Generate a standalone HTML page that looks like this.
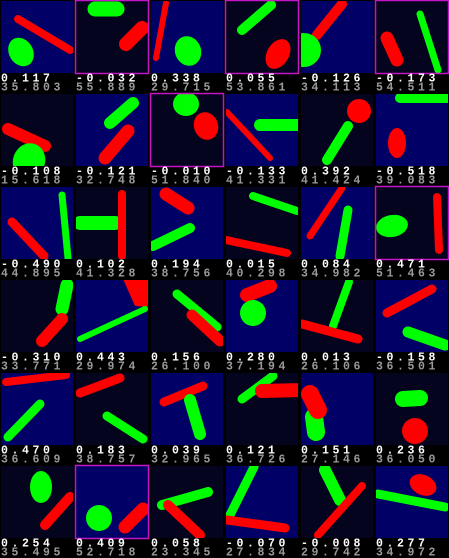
<!DOCTYPE html>
<html><head><meta charset="utf-8"><style>
html,body{margin:0;padding:0;background:#000;}
svg{display:block;}
text{font-family:"Liberation Mono",monospace;font-weight:bold;font-size:11.5px;letter-spacing:3.6px;}
</style></head><body>
<svg id="grid" width="449" height="558" viewBox="0 0 449 558" xmlns="http://www.w3.org/2000/svg">
<rect width="449" height="558" fill="#000"/>
</svg>
<script>
const scores = ["0.117","-0.032","0.338","0.055","-0.126","-0.173",
"-0.108","-0.121","-0.010","-0.133","0.392","-0.518",
"-0.490","0.102","0.194","0.015","0.084","0.471",
"-0.310","0.443","0.156","0.280","0.013","-0.158",
"0.470","0.183","0.039","0.121","0.151","0.236",
"0.254","0.409","0.058","-0.070","-0.008","0.277"];
const secondary = ["35.803","55.889","29.715","53.861","34.113","54.511",
"15.618","32.748","51.840","41.331","41.424","39.083",
"44.895","41.328","38.756","40.298","34.982","51.463",
"33.771","29.974","26.100","37.194","26.106","36.501",
"36.609","38.757","32.965","36.726","27.146","36.050",
"35.495","52.718","23.345","27.834","29.742","34.972"];
const bgs = "BDBDBD"+"DBDBDB"+"BDBDBD"+"DBDBDB"+"BDBDBD"+"DBDBDB";
const flagged = [1,3,5,8,17,31];
// shapes: [type, color, ...] c=capsule(x1,y1,x2,y2,w) e=ellipse(cx,cy,rx,ry,rot) p=polygon
const shapes = [
 [["c","r",18,19,70,50,8],["e","g",21,52,12,15,-30]],
 [["c","g",20,9,42,9,15],["c","r",51,44,67,28,14]],
 [["c","r",16,3,6,58,6],["e","g",38,51,13,15,-20]],
 [["c","g",46,5,17,30,10],["e","r",53,54,11,16,30]],
 [["c","r",42,4,17,35,10],["e","g",4,50,17,17,0]],
 [["c","r",12,38,22,60,13],["c","g",45,14,63,70,7]],
 [["c","r",8,36,45,53,12],["e","g",29,68,16,18,20]],
 [["c","g",35,30,58,10,12],["c","r",30,65,53,38,13]],
 [["e","g",36,11,13,12,0],["e","r",56,33,12,14,-20]],
 [["c","r",2,19,45,65,6],["c","g",35,32,80,32,12]],
 [["e","r",59,18,12,12,0],["c","g",27,67,48,33,10]],
 [["c","g",25,5,80,5,10],["e","r",22,50,9,15,0]],
 [["c","r",12,36,44,70,9],["c","g",62,9,68,72,7]],
 [["c","g",5,37,40,37,14],["c","r",47,8,47,70,8]],
 [["c","r",16,8,38,22,13],["c","g",3,60,40,42,10]],
 [["c","g",28,10,72,25,8],["c","r",1,54,62,67,8]],
 [["c","r",42,2,10,50,7],["c","g",48,24,40,70,9]],
 [["e","g",17,40,16,11,-10],["c","r",62,11,64,64,8]],
 [["c","g",67,6,62,30,13],["c","r",42,62,62,40,12]],
 [["p","r","48,0 74,0 74,28 60,27"],["c","g",5,60,70,30,6]],
 [["c","g",27,15,67,48,9],["c","r",42,36,70,62,11]],
 [["c","r",22,16,45,7,14],["e","g",28,34,13,13,0]],
 [["c","g",49,3,33,47,8],["c","r",2,45,58,60,9]],
 [["c","r",12,34,57,10,9],["c","g",33,53,70,66,11]],
 [["c","r",6,10,66,3,8],["c","g",8,65,40,32,9]],
 [["c","r",5,21,45,6,9],["c","g",32,44,68,67,9]],
 [["c","r",14,30,53,14,9],["c","g",40,28,50,62,12]],
 [["c","g",17,27,48,4,9],["c","r",37,19,80,18,14]],
 [["c","g",14,45,16,60,18],["c","r",10,22,18,38,18]],
 [["c","g",28,27,45,26,16],["e","r",40,59,13,13,0]],
 [["e","g",41,22,11,16,0],["c","r",45,60,70,32,10]],
 [["e","g",24,53,13,13,0],["c","r",50,62,68,44,13]],
 [["c","g",12,40,58,27,10],["c","r",18,40,50,70,10]],
 [["c","g",29,2,5,50,9],["c","r",2,55,60,63,9]],
 [["c","g",25,5,40,35,12],["c","r",18,70,62,21,8]],
 [["e","r",48,20,14,10,25],["c","g",3,29,70,42,9]]
];
const NS="http://www.w3.org/2000/svg";
const svg=document.getElementById('grid');
const COL={r:"#ff0000",g:"#00ff00"};
function mk(tag,attrs,parent){const e=document.createElementNS(NS,tag);for(const k in attrs)e.setAttribute(k,attrs[k]);parent.appendChild(e);return e;}
const defs=mk('defs',{},svg);
for(let i=0;i<36;i++){
  const c=i%6,r=Math.floor(i/6);
  const x=75*c,y=93*r;
  const g=mk('g',{transform:`translate(${x},${y})`},svg);
  
  
  const cp=mk('clipPath',{id:'cp'+i},defs);
  mk('rect',{x:1,y:1,width:72,height:72},cp);
  const bg=mk('rect',{x:1,y:1,width:72,height:72,fill:bgs[i]==='B'?'#000066':'#04041e'},g);
  
  
  const sg=mk('g',{'clip-path':`url(#cp${i})`},g);
  for(const s of shapes[i]){
    let el;
    if(s[0]==='c'){el=mk('line',{x1:s[2],y1:s[3],x2:s[4],y2:s[5],stroke:COL[s[1]],'stroke-width':s[6],'stroke-linecap':'round'},sg);}
    else if(s[0]==='e'){el=mk('ellipse',{cx:s[2],cy:s[3],rx:s[4],ry:s[5],fill:COL[s[1]],transform:`rotate(${s[6]} ${s[2]} ${s[3]})`},sg);}
    else {el=mk('polygon',{points:s[2],fill:COL[s[1]]},sg);}
    
    
  }
  if(flagged.includes(i)){
    const b=mk('rect',{x:0.5,y:0.5,width:73,height:73,fill:'none',stroke:'#c414c4','stroke-width':1.5},g);
    
    
  }
  const t1=mk('text',{x:1,y:81.5,fill:'#ffffff'},g);t1.textContent=scores[i];
  
  
  const t2=mk('text',{x:1,y:90.5,fill:'#9a9a9a'},g);t2.textContent=secondary[i];
  
  
}
</script>
</body></html>
